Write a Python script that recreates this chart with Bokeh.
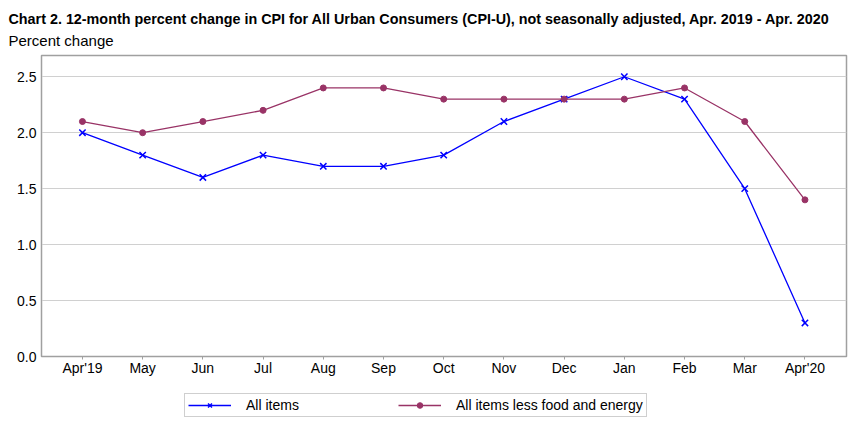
from bokeh.plotting import figure
from bokeh.layouts import column
from bokeh.models import Range1d, FixedTicker, Title, Legend, LegendItem, NumeralTickFormatter
from bokeh.embed import file_html
from bokeh.resources import INLINE

months = ["Apr'19", "May", "Jun", "Jul", "Aug", "Sep", "Oct", "Nov", "Dec", "Jan", "Feb", "Mar", "Apr'20"]
all_items = [2.0, 1.8, 1.6, 1.8, 1.7, 1.7, 1.8, 2.1, 2.3, 2.5, 2.3, 1.5, 0.3]
core = [2.1, 2.0, 2.1, 2.2, 2.4, 2.4, 2.3, 2.3, 2.3, 2.3, 2.4, 2.1, 1.4]
y_ticks = [0.0, 0.5, 1.0, 1.5, 2.0, 2.5]
series_names = ["All items", "All items less food and energy"]
title_text = "Chart 2. 12-month percent change in CPI for All Urban Consumers (CPI-U), not seasonally adjusted, Apr. 2019 - Apr. 2020"
subtitle_text = "Percent change"

FONT = "Liberation Sans"
BLUE = "#0000FF"
PURPLE = "#993366"
W = 861

xs = list(range(len(months)))

p = figure(width=W, height=390, output_backend="svg", toolbar_location=None,
           x_range=Range1d(-0.68, len(months) - 1 + 0.69), y_range=Range1d(0, 2.69),
           min_border_left=41, min_border_right=15, min_border_top=55, min_border_bottom=34,
           title=None)

p.add_layout(Title(text=subtitle_text, align="left", offset=-33, text_font=FONT,
                   text_font_size="15px", text_font_style="normal", text_color="#000000",
                   standoff=14), "above")
p.add_layout(Title(text=title_text, align="left", offset=-33, text_font=FONT,
                   text_font_size="14.35px", text_font_style="bold", text_color="#000000",
                   text_baseline="alphabetic", standoff=-8), "above")

p.line(xs, all_items, line_color=BLUE, line_width=1.3)
p.scatter(xs, all_items, marker="x", size=9, line_color=BLUE, line_width=1.5)
p.line(xs, core, line_color=PURPLE, line_width=1.3)
p.scatter(xs, core, marker="circle", size=6, fill_color=PURPLE, line_color=PURPLE)

p.outline_line_color = "#A0A0A0"
p.outline_line_width = 1.5

p.xaxis.ticker = FixedTicker(ticks=xs)
p.xaxis.major_label_overrides = {i: m for i, m in zip(xs, months)}
p.xaxis.major_tick_out = 3
p.xaxis.major_tick_in = 0
p.xaxis.minor_tick_line_color = None
p.xaxis.major_tick_line_color = "#A0A0A0"
p.xaxis.axis_line_color = "#A0A0A0"
p.xaxis.major_label_standoff = 0

p.yaxis.ticker = FixedTicker(ticks=y_ticks)
p.yaxis.formatter = NumeralTickFormatter(format="0.0")
p.yaxis.major_tick_line_color = None
p.yaxis.major_tick_out = 0
p.yaxis.major_tick_in = 0
p.yaxis.minor_tick_line_color = None
p.yaxis.axis_line_color = "#A0A0A0"
p.yaxis.major_label_standoff = 5

for ax in (p.xaxis, p.yaxis):
    ax.major_label_text_font = FONT
    ax.major_label_text_font_size = "14px"
    ax.major_label_text_color = "#000000"

p.xgrid.grid_line_color = None
p.ygrid.grid_line_color = "#D0D0D0"
p.ygrid.grid_line_width = 1.2
p.background_fill_color = "#FFFFFF"
p.border_fill_color = "#FFFFFF"

# legend strip (separate figure below the chart; its ranges keep the series out of view)
q = figure(width=W, height=33, output_backend="svg", toolbar_location=None,
           x_range=Range1d(-100, -99), y_range=Range1d(-100, -99), x_axis_type=None, y_axis_type=None,
           min_border=0, title=None)
q.outline_line_color = None
q.background_fill_color = "#FFFFFF"
q.border_fill_color = "#FFFFFF"
k1 = q.line(xs, all_items, line_color=BLUE, line_width=1.3)
k1m = q.scatter(xs, all_items, marker="x", size=9, line_color=BLUE, line_width=1.5)
k2 = q.line(xs, core, line_color=PURPLE, line_width=1.3)
k2m = q.scatter(xs, core, marker="circle", size=6, fill_color=PURPLE, line_color=PURPLE)

legend = Legend(items=[LegendItem(label=series_names[0], renderers=[k1, k1m]),
                       LegendItem(label=series_names[1], renderers=[k2, k2m])],
                orientation="horizontal", location=(143, 6),
                glyph_width=43, glyph_height=14, label_standoff=15, label_width=60,
                spacing=92, padding=3, margin=0,
                label_text_font=FONT, label_text_font_size="14px", label_text_color="#000000",
                border_line_color="#A0A0A0", border_line_width=1.2,
                background_fill_alpha=1.0)
q.add_layout(legend, "center")

layout = column(p, q, spacing=0)
open("out.html", "w").write(file_html(layout, INLINE))
